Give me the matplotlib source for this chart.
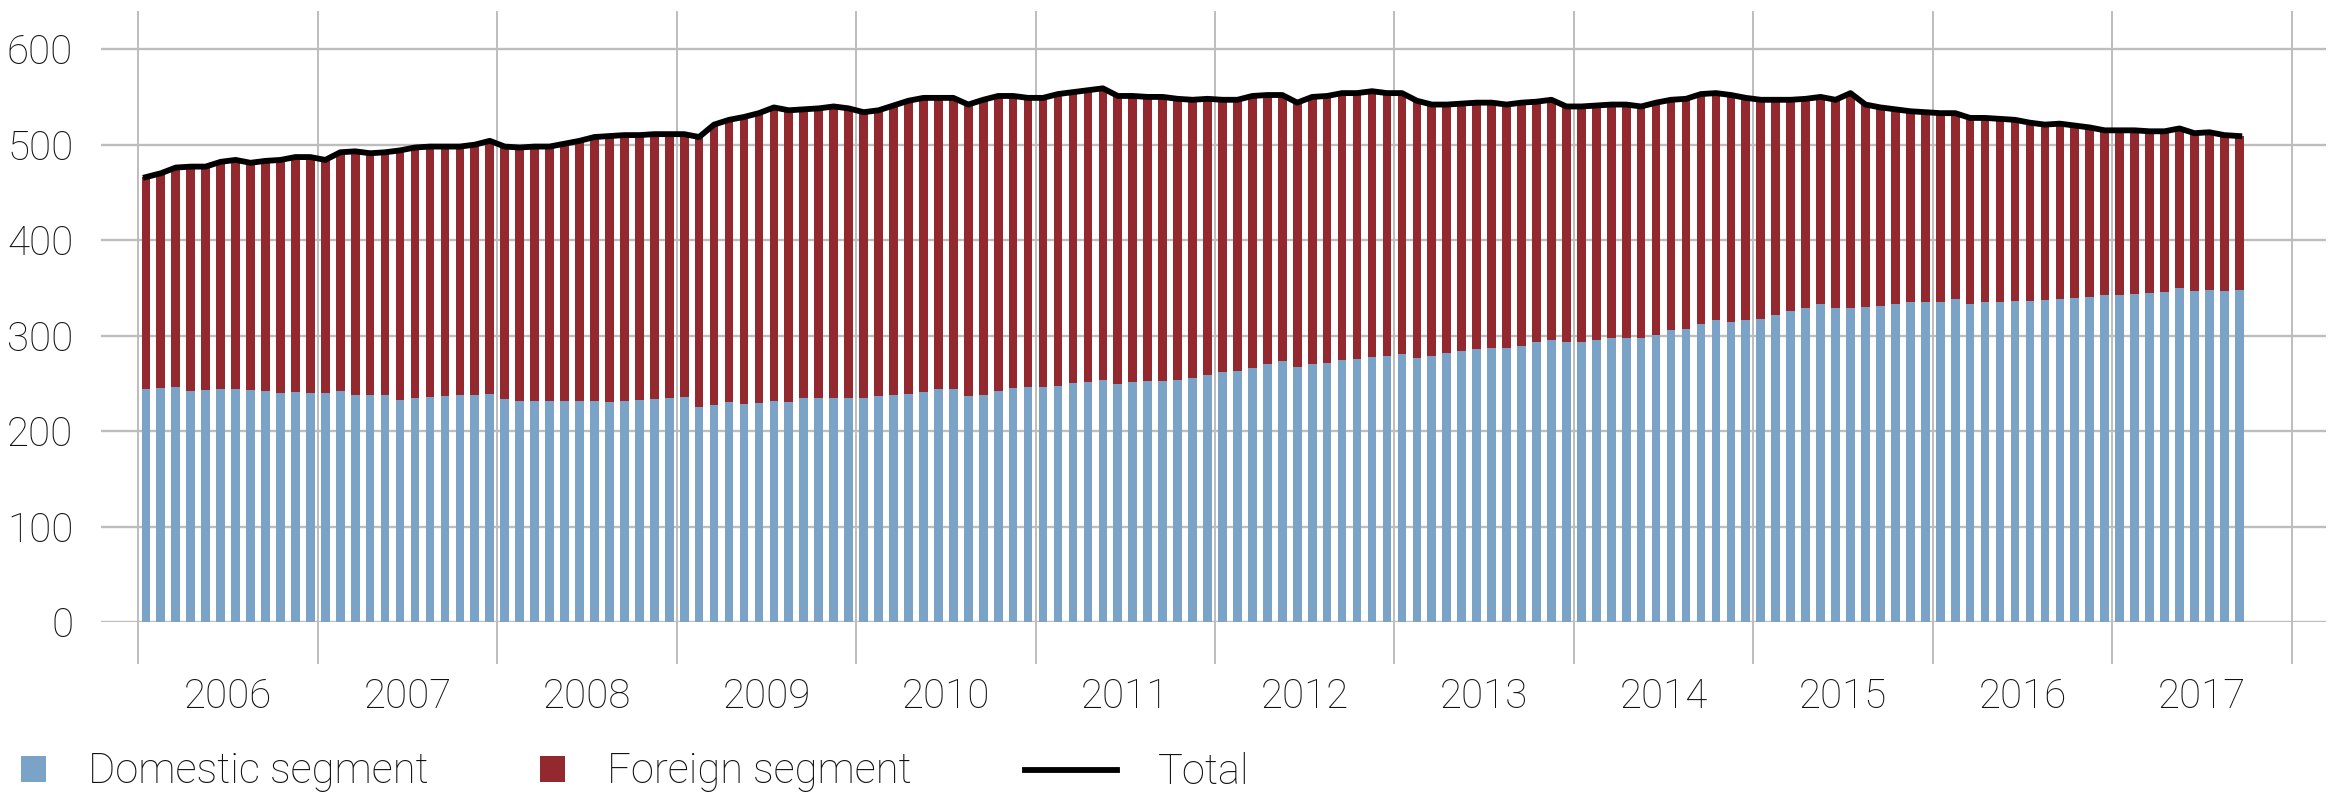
import numpy as np
import matplotlib.pyplot as plt
from matplotlib.patches import Patch
from matplotlib.lines import Line2D

plt.rcParams['font.family'] = ['Roboto', 'DejaVu Sans']

# monthly values, Jan 2006 - Sep 2017
domestic = [
    244, 245, 246, 242, 243, 244, 244, 243, 242, 240, 241, 240,  # 2006
    240, 242, 238, 238, 238, 233, 235, 236, 237, 238, 238, 239,  # 2007
    234, 231, 231, 231, 231, 231, 231, 230, 231, 233, 234, 235,  # 2008
    236, 225, 227, 230, 228, 229, 231, 230, 235, 235, 235, 235,  # 2009
    235, 237, 238, 239, 241, 244, 244, 237, 238, 242, 245, 246,  # 2010
    246, 247, 250, 251, 253, 249, 251, 252, 252, 254, 256, 259,  # 2011
    262, 263, 266, 270, 273, 267, 270, 271, 274, 275, 278, 279,  # 2012
    281, 277, 279, 282, 284, 286, 287, 287, 289, 293, 295, 293,  # 2013
    293, 295, 298, 298, 297, 301, 306, 307, 312, 316, 314, 316,  # 2014
    317, 322, 326, 329, 333, 329, 329, 330, 331, 333, 335, 335,  # 2015
    335, 338, 333, 335, 335, 336, 336, 337, 338, 339, 340, 342,  # 2016
    343, 344, 345, 346, 350, 347, 348, 347, 348,                 # 2017
]
total = [
    466, 470, 476, 477, 477, 482, 484, 481, 483, 484, 487, 487,  # 2006
    484, 492, 493, 491, 492, 494, 497, 498, 498, 498, 500, 504,  # 2007
    498, 497, 498, 498, 501, 504, 508, 509, 510, 510, 511, 511,  # 2008
    511, 508, 521, 526, 529, 533, 539, 536, 537, 538, 540, 538,  # 2009
    534, 536, 541, 546, 549, 549, 549, 542, 547, 551, 551, 549,  # 2010
    549, 553, 555, 557, 559, 551, 551, 550, 550, 548, 547, 548,  # 2011
    547, 547, 551, 552, 552, 544, 550, 551, 554, 554, 556, 554,  # 2012
    554, 546, 542, 542, 543, 544, 544, 542, 544, 545, 547, 540,  # 2013
    540, 541, 542, 542, 540, 544, 547, 548, 553, 554, 552, 549,  # 2014
    547, 547, 547, 548, 550, 547, 554, 542, 539, 537, 535, 534,  # 2015
    533, 533, 528, 528, 527, 526, 523, 521, 522, 520, 518, 515,  # 2016
    515, 515, 514, 514, 517, 512, 513, 510, 509,                 # 2017
]
years = list(range(2006, 2018))

domestic = np.array(domestic, dtype=float)
total = np.array(total, dtype=float)
foreign = total - domestic
x = np.arange(len(total)) + 0.5

blue = '#7ba3c7'
red = '#93282f'
grid_c = '#bdbdbd'
txt_c = '#111111'
fs = 29

fig = plt.figure(figsize=(23.37, 7.93), dpi=100)
ax = fig.add_axes([101/2337, 1 - 622/793, (2326 - 101)/2337, (622 - 11)/793])

ax.bar(x, domestic, width=0.58, color=blue, zorder=2)
ax.bar(x, foreign, bottom=domestic, width=0.58, color=red, zorder=2)
ax.plot(x, total, color='black', lw=4.2, zorder=3, solid_joinstyle='round')

ax.set_xlim(-2.5, 146.3)
ax.set_ylim(0, 640)

ax.set_yticks(range(0, 700, 100))
ax.yaxis.grid(True, color=grid_c, lw=1.7, zorder=0)
ax.tick_params(axis='y', length=0, pad=20, labelsize=fs, labelcolor=txt_c)

ax.set_xticks(np.arange(0, 12 * 13, 12))
ax.set_xticklabels([])
ax.set_xticks(np.arange(6, 12 * 12, 12), minor=True)
ax.set_xticklabels([str(y) for y in years], minor=True)
ax.xaxis.grid(True, which='major', color=grid_c, lw=1.4, zorder=0)
ax.tick_params(axis='x', which='major', length=30, width=1.4, color=grid_c)
ax.tick_params(axis='x', which='minor', length=0, pad=40, labelsize=fs, labelcolor=txt_c)

for s in ax.spines.values():
    s.set_visible(False)

for lab in ax.get_xticklabels(minor=True) + ax.get_yticklabels():
    lab.set_fontweight('light')

# legend, one entry each so the handles can differ in length
entries = [
    (Patch(facecolor=blue, edgecolor='none'), 'Domestic segment', 21, 0.6),
    (Patch(facecolor=red, edgecolor='none'), 'Foreign segment', 540, 0.6),
    (Line2D([], [], color='black', lw=4.2), 'Total', 1025, 2.2),
]
for h, lab, px, hl in entries:
    leg = fig.legend([h], [lab], loc='center left',
                     bbox_to_anchor=(px / 2337, 1 - 772 / 793),
                     frameon=False, borderpad=0, borderaxespad=0,
                     handlelength=hl, handleheight=0.6, handletextpad=1.0,
                     prop={'size': 30, 'weight': 'light'})
    for t in leg.get_texts():
        t.set_color(txt_c)

fig.savefig('out.png', dpi=100)
